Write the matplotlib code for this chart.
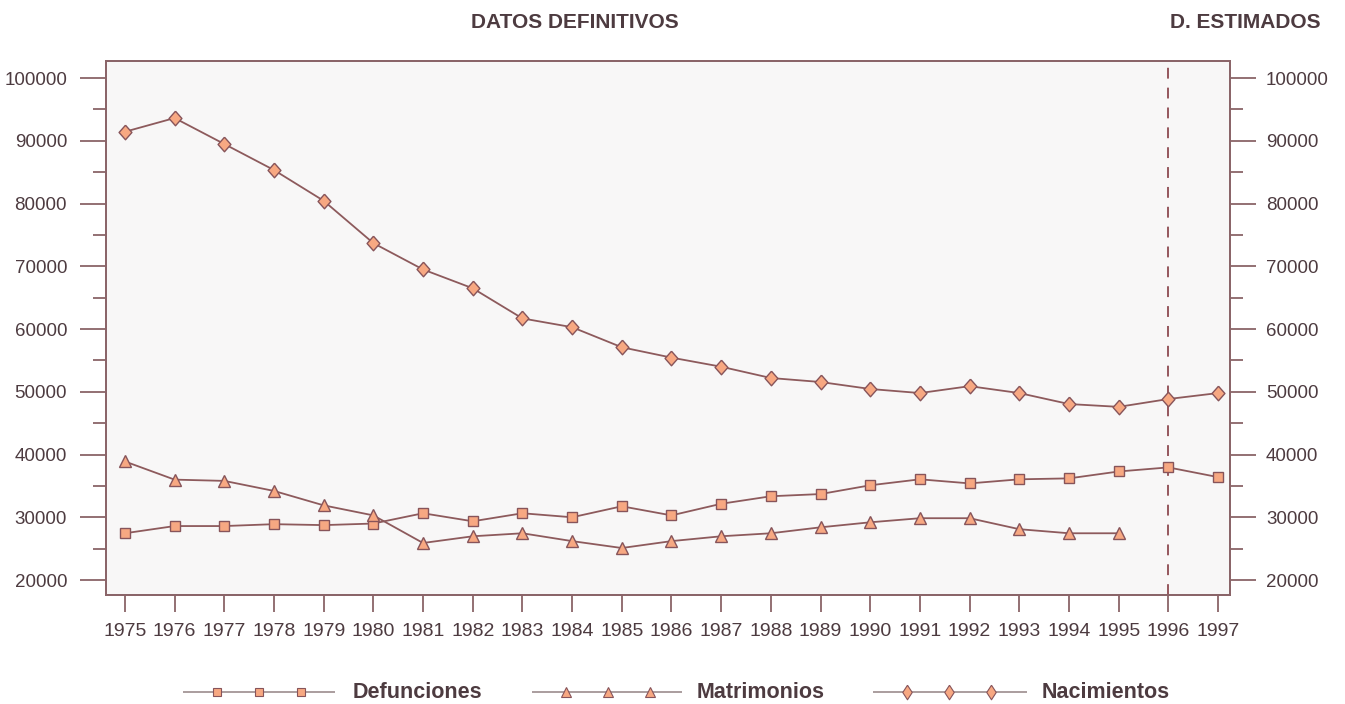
import matplotlib
matplotlib.use("Agg")
import matplotlib.pyplot as plt
from matplotlib.ticker import MultipleLocator

years = list(range(1975, 1998))
defunciones = [27450, 28600, 28600, 28900, 28750, 29000, 30640, 29360, 30640, 30000,
               31750, 30300, 32150, 33350, 33700, 35100, 36050, 35400, 36050, 36200,
               37300, 37950, 36400]
matrimonios_years = list(range(1975, 1996))
matrimonios = [38900, 36000, 35800, 34200, 31900, 30300, 25900, 26970, 27450, 26200,
               25100, 26200, 26970, 27450, 28400, 29200, 29850, 29850, 28100, 27450,
               27450]
nacimientos = [91450, 93640, 89500, 85350, 80450, 73700, 69500, 66500, 61700, 60300,
               57100, 55450, 54000, 52200, 51560, 50450, 49800, 50900, 49800, 48050,
               47600, 48850, 49800]
y_ticks = [20000, 30000, 40000, 50000, 60000, 70000, 80000, 90000, 100000]
header_left = "DATOS DEFINITIVOS"
header_right = "D. ESTIMADOS"
estimate_year = 1996
series_names = ["Defunciones", "Matrimonios", "Nacimientos"]

plt.rcParams['font.family'] = ['Liberation Sans', 'DejaVu Sans']

TXT = "#4d3b40"
AX = "#8a6468"
LINE = "#8d5a5c"
FACE = "#f7a882"
EDGE = "#87545a"

diamond = [(0, 1), (0.88, 0), (0, -1), (-0.88, 0), (0, 1)]
thin_diamond = [(0, 1), (0.65, 0), (0, -1), (-0.65, 0), (0, 1)]

W, H = 1345, 704
fig = plt.figure(figsize=(W / 100, H / 100), dpi=100)
ax = fig.add_axes([106 / W, 1 - 595 / H, (1230 - 106) / W, (595 - 61) / H])
ax.set_facecolor("#f8f7f7")

mk = dict(markerfacecolor=FACE, markeredgecolor=EDGE, markeredgewidth=1.0)
ax.plot(years, defunciones, color=LINE, lw=1.3, marker='s', markersize=7, **mk, zorder=3)
ax.plot(matrimonios_years, matrimonios, color=LINE, lw=1.3, marker='^', markersize=8, **mk, zorder=3)
ax.plot(years, nacimientos, color=LINE, lw=1.3, marker=diamond, markersize=10.5, **mk, zorder=3)

ax.axvline(estimate_year, color="#8d4a50", lw=1.3, ls=(0, (6, 5)), zorder=2)

ax.set_xlim(1974.62, 1997.24)
ax.set_ylim(17610, 102730)

ax.set_xticks(years)
ax.set_xticklabels([str(y) for y in years])
ax.set_yticks(y_ticks)
ax.set_yticklabels([str(v) for v in y_ticks])
ax.yaxis.set_minor_locator(MultipleLocator(5000))

ax2 = ax.twinx()
ax2.set_ylim(ax.get_ylim())
ax2.set_yticks(y_ticks)
ax2.set_yticklabels([str(v) for v in y_ticks])
ax2.yaxis.set_minor_locator(MultipleLocator(5000))

for a in (ax, ax2):
    for s in a.spines.values():
        s.set_color(AX)
        s.set_linewidth(1.3)

ax.tick_params(axis='y', which='major', length=19, width=1.3, color=AX, pad=9,
               labelsize=13.5, labelcolor=TXT)
ax.tick_params(axis='y', which='minor', length=9.5, width=1.3, color=AX)
ax.tick_params(axis='x', which='major', length=12, width=1.3, color=AX, pad=8,
               labelsize=14, labelcolor=TXT)
ax2.tick_params(axis='y', which='major', length=19, width=1.3, color=AX, pad=7,
                labelsize=13.5, labelcolor=TXT)
ax2.tick_params(axis='y', which='minor', length=9.5, width=1.3, color=AX)

fig.text(575 / W, 1 - 22 / H, header_left, ha='center', va='center',
         fontsize=15, fontweight='bold', color=TXT)
fig.text(1245 / W, 1 - 22 / H, header_right, ha='center', va='center',
         fontsize=15, fontweight='bold', color=TXT)

# Manual legend in pixel coordinates
lax = fig.add_axes([0, 0, 1, 1], facecolor='none')
lax.set_xlim(0, W)
lax.set_ylim(H, 0)
lax.axis('off')
lg_line = "#9c8c8e"
lmk = dict(markerfacecolor=FACE, markeredgecolor=EDGE, markeredgewidth=0.8)
legend_specs = [
    (183, 335, 's', 6, 353),
    (532, 682, '^', 6.5, 697),
    (873, 1027, thin_diamond, 10.5, 1042),
]
ly = 692
for (x0, x1, m, ms, tx), name in zip(legend_specs, series_names):
    lax.plot([x0, x1], [ly, ly], color=lg_line, lw=1.2, solid_capstyle='butt')
    mx = [x0 + 34, x0 + 76, x0 + 118]
    lax.plot(mx, [ly] * 3, ls='none', marker=m, markersize=ms, **lmk)
    lax.text(tx, ly, name, ha='left', va='center', fontsize=15.5,
             fontweight='bold', color=TXT)

fig.savefig("out.png", dpi=100, facecolor='white')
